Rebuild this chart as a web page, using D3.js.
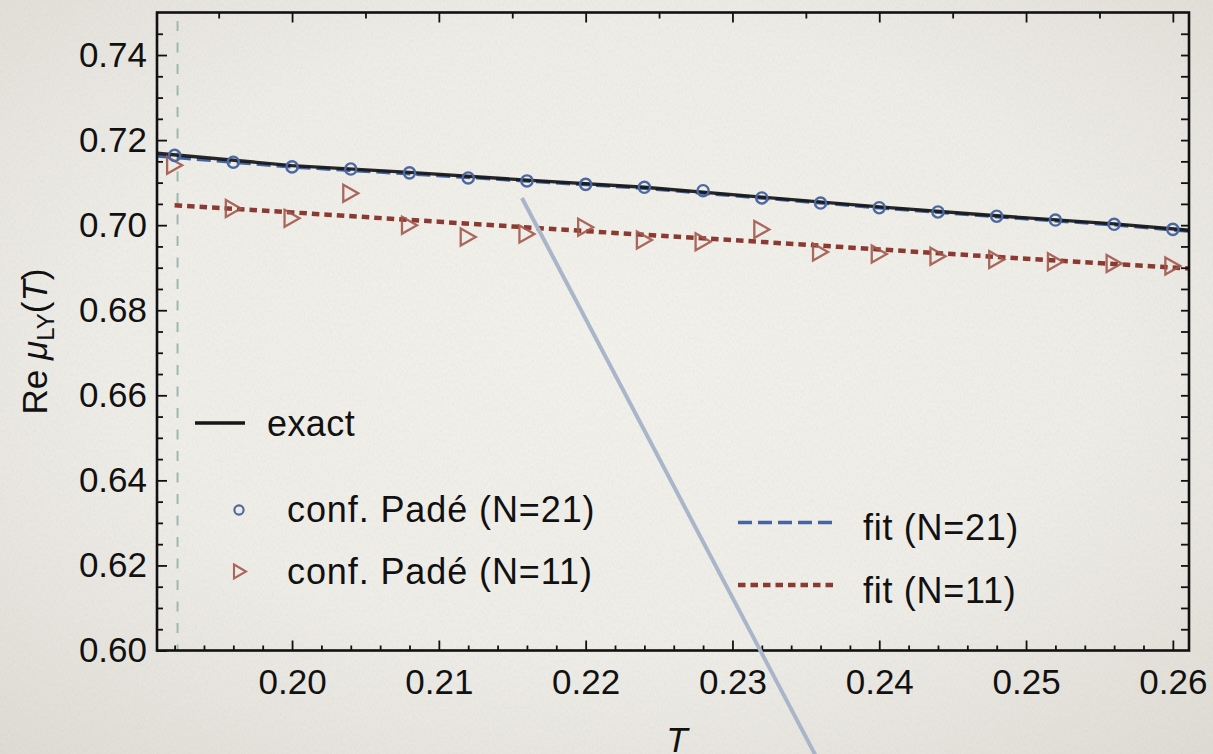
<!DOCTYPE html>
<html>
<head>
<meta charset="utf-8">
<script src="https://cdn.jsdelivr.net/npm/d3@7"></script>
<style>
  html, body { margin: 0; padding: 0; background: #eeebe6; overflow: hidden; }
  svg text { font-family: "Liberation Sans", Arial, Helvetica, sans-serif; fill: #111; }
</style>
</head>
<body>
<svg id="chart" width="1213" height="754"></svg>
<script>
// Temperatures at which the conformal Padé approximants were evaluated
const temps = [0.192, 0.196, 0.200, 0.204, 0.208, 0.212, 0.216, 0.220, 0.224,
               0.228, 0.232, 0.236, 0.240, 0.244, 0.248, 0.252, 0.256, 0.260];
// Re mu_LY from the conformal Padé approximant, N = 21
const padeN21 = [0.7164, 0.7148, 0.7137, 0.7132, 0.7123, 0.7111, 0.7104, 0.7096, 0.7089,
                 0.7081, 0.7064, 0.7052, 0.7041, 0.7031, 0.7021, 0.7012, 0.7002, 0.6990];
// Re mu_LY from the conformal Padé approximant, N = 11
const padeN11 = [0.7141, 0.7039, 0.7016, 0.7075, 0.7000, 0.6972, 0.6979, 0.6995, 0.6965,
                 0.6961, 0.6990, 0.6937, 0.6932, 0.6927, 0.6919, 0.6914, 0.6910, 0.6904];

// Exact curve and N = 21 fit, sampled on a common grid
const curveT   = [0.1908, 0.200, 0.208, 0.216, 0.224, 0.232, 0.240, 0.248, 0.256, 0.2611];
const exactMu  = [0.7169, 0.7140, 0.7124, 0.7106, 0.7089, 0.7066, 0.7043, 0.7022, 0.7003, 0.6988];
const fitN21   = [0.7163, 0.7137, 0.7121, 0.7104, 0.7087, 0.7064, 0.7041, 0.7020, 0.7001, 0.6986];
// N = 11 fit
const fitN11T  = [0.192, 0.200, 0.210, 0.220, 0.230, 0.240, 0.250, 0.2611];
const fitN11   = [0.7047, 0.7030, 0.7008, 0.6986, 0.6965, 0.6943, 0.6921, 0.6898];

// Critical temperature marker
const criticalT = 0.1922;
// Slide pointer running from the curve down past the axis
const pointerT  = [0.21566, 0.2362];
const pointerMu = [0.7064, 0.5718];

// Axis ticks
const xTicks      = [0.20, 0.21, 0.22, 0.23, 0.24, 0.25, 0.26];
const xTickLabels = ["0.20", "0.21", "0.22", "0.23", "0.24", "0.25", "0.26"];
const yTicks      = [0.60, 0.62, 0.64, 0.66, 0.68, 0.70, 0.72, 0.74];
const yTickLabels = ["0.60", "0.62", "0.64", "0.66", "0.68", "0.70", "0.72", "0.74"];

const legendNames = ["exact", "conf. Padé (N=21)", "conf. Padé (N=11)", "fit (N=21)", "fit (N=11)"];

const colors = {
  exact: "#161616",
  pade21: "#4b68a0",
  pade11: "#a2584d",
  fit21: "#4565a0",
  fit11: "#8a3a30",
  critical: "#9fb7b1",
  pointer: "#a9b5c9"
};

const W = 1213, H = 754;
const svg = d3.select("#chart");
const defs = svg.append("defs");

// Paper background: soft vignette plus fine grain
const grad = defs.append("radialGradient").attr("id", "vignette")
  .attr("cx", "50%").attr("cy", "45%").attr("r", "75%");
grad.append("stop").attr("offset", "0%").attr("stop-color", "#f3f1ec");
grad.append("stop").attr("offset", "55%").attr("stop-color", "#efede8");
grad.append("stop").attr("offset", "100%").attr("stop-color", "#dedbd4");

const grain = defs.append("filter").attr("id", "grain")
  .attr("x", 0).attr("y", 0).attr("width", "100%").attr("height", "100%");
grain.append("feTurbulence").attr("type", "fractalNoise")
  .attr("baseFrequency", "0.75 0.3").attr("numOctaves", 3).attr("seed", 7);
grain.append("feColorMatrix").attr("type", "matrix")
  .attr("values", "0 0 0 0 0.42  0 0 0 0 0.40  0 0 0 0 0.37  0.35 0 0 0 -0.12");

svg.append("rect").attr("width", W).attr("height", H).attr("fill", "url(#vignette)");
svg.append("rect").attr("width", W).attr("height", H).attr("filter", "url(#grain)").attr("opacity", 0.55);

// Scales
const x = d3.scaleLinear().domain([0.1908, 0.2611]).range([157, 1189]);
const y = d3.scaleLinear().domain([0.60, 0.75]).range([650.5, 12.5]);
const [x0, x1] = x.range();
const [y0, y1] = y.range();

const round = v => Math.round(v * 10000) / 10000;
const isOn = (v, step) => Math.abs(v / step - Math.round(v / step)) < 1e-6;

// Critical temperature (dashed vertical)
svg.append("line")
  .attr("x1", x(criticalT)).attr("x2", x(criticalT))
  .attr("y1", y(0.748)).attr("y2", y(0.60))
  .attr("stroke", colors.critical).attr("stroke-width", 2)
  .attr("stroke-dasharray", "10,11.5");

// Curves
const line = d3.line().x(d => x(d[0])).y(d => y(d[1]));

svg.append("path")
  .datum(fitN11T.map((t, i) => [t, fitN11[i]]))
  .attr("d", line).attr("fill", "none")
  .attr("stroke", colors.fit11).attr("stroke-width", 4.5)
  .attr("stroke-dasharray", "7.5,5");

svg.append("path")
  .datum(curveT.map((t, i) => [t, fitN21[i]]))
  .attr("d", line).attr("fill", "none")
  .attr("stroke", colors.fit21).attr("stroke-width", 3.6)
  .attr("stroke-dasharray", "14,6");

svg.append("path")
  .datum(curveT.map((t, i) => [t, exactMu[i]]))
  .attr("d", line).attr("fill", "none")
  .attr("stroke", colors.exact).attr("stroke-width", 3.4).attr("opacity", 0.92);

// Markers
const triPath = (w, h) => `M${-w / 2},${-h / 2}L${w / 2},0L${-w / 2},${h / 2}Z`;

svg.append("g").selectAll("path")
  .data(temps.map((t, i) => [t, padeN11[i]]))
  .join("path")
  .attr("transform", d => `translate(${x(d[0])},${y(d[1])})`)
  .attr("d", triPath(15, 17))
  .attr("fill", "none").attr("stroke", colors.pade11)
  .attr("stroke-width", 2.3).attr("stroke-linejoin", "miter").attr("opacity", 0.9);

svg.append("g").selectAll("circle")
  .data(temps.map((t, i) => [t, padeN21[i]]))
  .join("circle")
  .attr("cx", d => x(d[0])).attr("cy", d => y(d[1])).attr("r", 5.6)
  .attr("fill", "none").attr("stroke", colors.pade21).attr("stroke-width", 2.4);

// Axes with inward ticks
const fontPx = 35;

function styleAxis(g) {
  g.select(".domain").remove();
  g.selectAll(".tick line").attr("stroke", "#111").attr("stroke-width", 1.8);
  g.selectAll(".tick text").attr("font-size", fontPx).attr("fill", "#111")
    .attr("font-family", '"Liberation Sans", Arial, sans-serif');
}

const yMinor = d3.range(0.605, 0.749, 0.005).map(round).filter(v => !isOn(v, 0.02));
const xMinor = d3.range(0.192, 0.2611, 0.002).map(round).filter(v => !isOn(v, 0.01));
const xTop = d3.range(0.195, 0.2611, 0.005).map(round);
const yRight = d3.range(0.605, 0.749, 0.005).map(round);

// left
svg.append("g").attr("transform", `translate(${x0},0)`)
  .call(d3.axisLeft(y).tickValues(yTicks).tickFormat((d, i) => yTickLabels[i])
    .tickSizeInner(-10).tickSizeOuter(0).tickPadding(10))
  .call(styleAxis);
svg.append("g").attr("transform", `translate(${x0},0)`)
  .call(d3.axisLeft(y).tickValues(yMinor).tickFormat("").tickSizeInner(-6).tickSizeOuter(0))
  .call(styleAxis);

// bottom
svg.append("g").attr("transform", `translate(0,${y0})`)
  .call(d3.axisBottom(x).tickValues(xTicks).tickFormat((d, i) => xTickLabels[i])
    .tickSizeInner(-10).tickSizeOuter(0).tickPadding(18.5))
  .call(styleAxis);
svg.append("g").attr("transform", `translate(0,${y0})`)
  .call(d3.axisBottom(x).tickValues(xMinor).tickFormat("").tickSizeInner(-5).tickSizeOuter(0))
  .call(styleAxis);

// top
svg.append("g").attr("transform", `translate(0,${y1})`)
  .call(d3.axisTop(x).tickValues(xTop).tickFormat("")
    .tickSize(0).tickSizeOuter(0))
  .call(styleAxis)
  .selectAll(".tick line").attr("y2", d => isOn(d, 0.01) ? 10 : 6);

// right
svg.append("g").attr("transform", `translate(${x1},0)`)
  .call(d3.axisRight(y).tickValues(yRight).tickFormat("")
    .tickSize(0).tickSizeOuter(0))
  .call(styleAxis)
  .selectAll(".tick line").attr("x2", -8);

// frame
svg.append("rect")
  .attr("x", x0).attr("y", y1).attr("width", x1 - x0).attr("height", y0 - y1)
  .attr("fill", "none").attr("stroke", "#111").attr("stroke-width", 2.6);

// Axis titles
const ylab = svg.append("text")
  .attr("transform", `translate(47,${(y0 + y1) / 2 + 10}) rotate(-90)`)
  .attr("text-anchor", "middle").attr("font-size", fontPx);
ylab.append("tspan").text("Re ");
ylab.append("tspan").attr("font-style", "italic").text("μ");
ylab.append("tspan").attr("font-size", 24).attr("dy", 7).text("LY");
ylab.append("tspan").attr("dy", -7).text("(");
ylab.append("tspan").attr("font-style", "italic").text("T");
ylab.append("tspan").text(")");

svg.append("text")
  .attr("x", (x0 + x1) / 2 + 4).attr("y", 752)
  .attr("text-anchor", "middle").attr("font-size", fontPx)
  .attr("font-style", "italic").text("T");

// Pointer overlay
svg.append("line")
  .attr("x1", x(pointerT[0])).attr("y1", y(pointerMu[0]))
  .attr("x2", x(pointerT[1])).attr("y2", y(pointerMu[1]))
  .attr("stroke", colors.pointer).attr("stroke-width", 4);

// Legend
const legFont = 36;
const legSpacing = 0.9;
const leg = svg.append("g");

leg.append("line").attr("x1", 195).attr("x2", 245).attr("y1", 423).attr("y2", 423)
  .attr("stroke", colors.exact).attr("stroke-width", 3.4);
leg.append("text").attr("x", 267).attr("y", 435.5).attr("font-size", legFont)
  .attr("letter-spacing", 0.4).text(legendNames[0]);

leg.append("circle").attr("cx", 239).attr("cy", 510).attr("r", 4.6)
  .attr("fill", "none").attr("stroke", colors.pade21).attr("stroke-width", 2.1);
leg.append("text").attr("x", 287).attr("y", 522).attr("font-size", legFont)
  .attr("letter-spacing", legSpacing).text(legendNames[1]);

leg.append("path").attr("transform", "translate(240,571.5)").attr("d", triPath(12, 14))
  .attr("fill", "none").attr("stroke", colors.pade11).attr("stroke-width", 2.1).attr("opacity", 0.9);
leg.append("text").attr("x", 287).attr("y", 583.5).attr("font-size", legFont)
  .attr("letter-spacing", legSpacing).text(legendNames[2]);

leg.append("line").attr("x1", 738).attr("x2", 838).attr("y1", 522.5).attr("y2", 522.5)
  .attr("stroke", colors.fit21).attr("stroke-width", 3.6).attr("stroke-dasharray", "14,6");
leg.append("text").attr("x", 863).attr("y", 540).attr("font-size", legFont)
  .attr("letter-spacing", 0.7).text(legendNames[3]);

leg.append("line").attr("x1", 738).attr("x2", 838).attr("y1", 585).attr("y2", 585)
  .attr("stroke", colors.fit11).attr("stroke-width", 4.5).attr("stroke-dasharray", "7.5,5");
leg.append("text").attr("x", 863).attr("y", 602.5).attr("font-size", legFont)
  .attr("letter-spacing", 0.7).text(legendNames[4]);
</script>
</body>
</html>
